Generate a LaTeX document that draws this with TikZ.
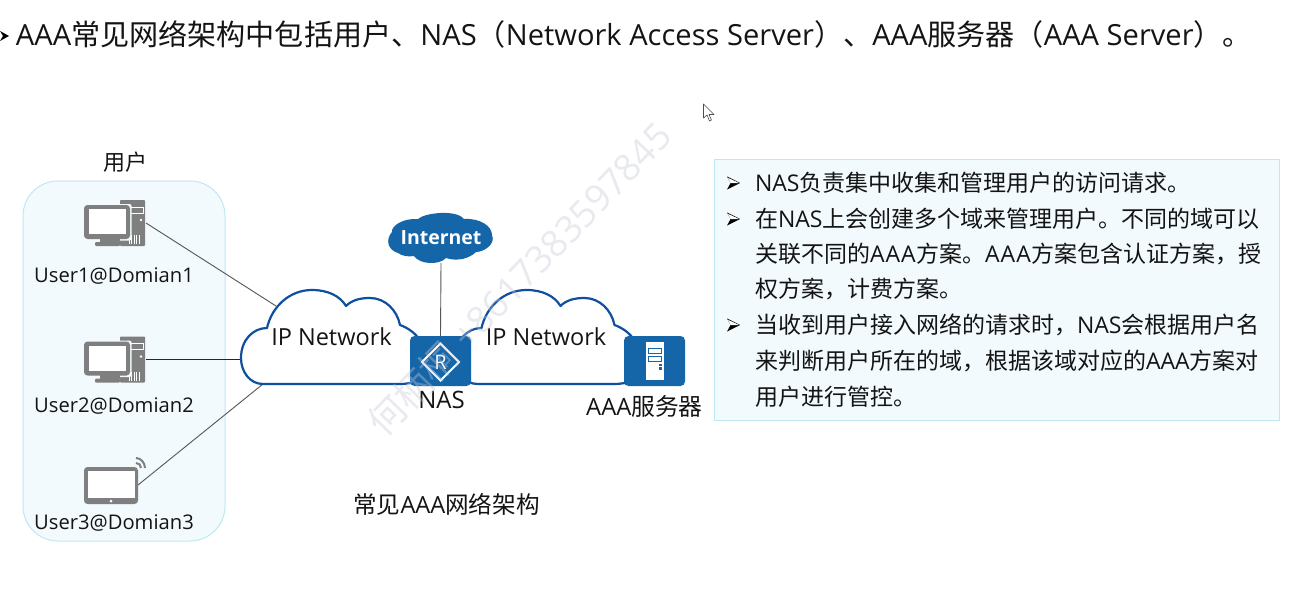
\documentclass[tikz,border=0pt]{standalone}
\usepackage{fontspec}
\setmainfont{Open Sans}
\newfontfamily\cjk{Noto Sans CJK SC}
\newcommand\zh[1]{{\cjk #1}}
\newcommand\fs[1]{\fontsize{#1}{#1}\selectfont}
\newcommand\AAAw{A\kern1pt A\kern1pt A\kern0.5pt}
\definecolor{nblue}{HTML}{1565A9}
\definecolor{cloudline}{HTML}{0F4FA0}
\definecolor{paneledge}{HTML}{BFE8F5}
\definecolor{panelfill}{HTML}{F2FAFD}
\definecolor{icongray}{HTML}{7F7F7F}
\definecolor{linegray}{HTML}{555555}
\definecolor{wmgray}{HTML}{C4C9D6}
\tikzset{
  x=1pt,y=-1pt,
  txt/.style={anchor=base west,inner sep=0pt,outer sep=0pt,text=black!92},
  ctxt/.style={anchor=base,inner sep=0pt,outer sep=0pt,text=black!92},
  link/.style={draw=linegray,line width=0.9pt},
  frame/.style={draw=none,minimum width=#1,inner sep=0pt,outer sep=0pt},
  bluebox/.style={fill=nblue,rounded corners=4.5pt},
  ipcloud/.style={draw=cloudline,line width=2.2pt,fill=white,line join=round},
  wifi/.style={draw=icongray,line width=2pt}
}
\newcommand\PC[2]{%
 \begin{scope}[shift={(#1,#2)}]
  \fill[icongray,rounded corners=0.8pt] (36,0) rectangle (61,46);
  \draw[white,line width=0.7pt] (46,7) rectangle (59,13);
  \fill[white] (57,20) circle (1.3pt);
  \foreach \xx in {45,47.5,50,52.5,55} \draw[white,line width=0.7pt] (\xx,35)--(\xx,44);
  \fill[panelfill,rounded corners=2pt] (-1,4) rectangle (47.5,40.5);
  \fill[icongray,rounded corners=3.5pt] (0,5) rectangle (46,39);
  \fill[white] (4.5,9) rectangle (42,34);
  \fill[icongray] (16,38.5) rectangle (36,42.5);
  \fill[icongray,rounded corners=1pt] (11,42) rectangle (36,46);
 \end{scope}}
\newcommand\BUL[2]{%
 \begin{scope}[shift={(#1,#2)}]
  \fill[black] (0,-6.5) -- (13,0) -- (0,6.5) -- (3.6,0) -- cycle;
  \fill[white] (0.9,-5.2) -- (12,0) -- (3.6,0) -- cycle;
 \end{scope}}
\newcommand\CLOUD[1]{%
 \path[ipcloud,shift={(#1,0)}] (263,384)
   .. controls (250,384) and (241,372) .. (241,358)
   .. controls (241,340) and (253,328) .. (267,328)
   .. controls (272,306) and (290,290) .. (312,290)
   .. controls (328,290) and (340,296) .. (346,306)
   .. controls (352,300) and (360,298) .. (370,298)
   .. controls (385,298) and (397,310) .. (400,325)
   .. controls (408,328) and (414,332) .. (420,340)
   -- (420,380) .. controls (412,383) and (408,384) .. (398,384) -- cycle;}
\begin{document}
\begin{tikzpicture}
\useasboundingbox (0,0) rectangle (1293,591);
\fill[white] (0,0) rectangle (1293,591);
% title
\fill[black] (0,31) -- (9,36) -- (0,41) -- (3,36) -- cycle;
\node[txt] (title) at (16,46) {\fs{29.1}AAA\zh{常见网络架构中包括用户、}NAS\zh{（}Network Access Server\zh{）、}AAA\zh{服务器（}AAA Server\zh{）。}};
% cursor
\draw[fill=white,draw=black!70,line width=0.6pt,line join=round] (703.5,104) -- (703.5,118) -- (707,115) -- (709.5,121) -- (711.5,120) -- (709,114.5) -- (714,114.5) -- cycle;
% users group
\node[draw=paneledge,fill=panelfill,line width=1pt,rounded corners=35pt,minimum width=202pt,minimum height=360pt,inner sep=0pt,outer sep=0pt] (group) at (124,361) {};
\node[ctxt] (grouplabel) at (125,170) {\fs{22}\zh{用户}};
% device frames
\node[frame=62pt,minimum height=46pt] (pc1) at (115,223) {};
\node[frame=62pt,minimum height=46pt] (pc2) at (115,359.5) {};
\node[frame=54pt,minimum height=37pt] (tab) at (111,485) {};
\node[frame=104pt,minimum height=52pt] (inet) at (441,237) {};
\node[frame=61pt,minimum height=50pt] (nas) at (440.5,361) {};
\node[frame=61pt,minimum height=50pt] (srv) at (654.5,361) {};
\coordinate (a1) at (276,306);
\coordinate (a2) at (241,359.5);
\coordinate (a3) at (263,384);
% links
\draw[link] (pc1.east) -- (a1);
\draw[link,draw=black!85] (pc2.east) -- (a2);
\draw[link] (tab.east) -- (a3);
\draw[link] (inet.south) -- (nas.north);
% icons
\PC{84}{200}
\PC{84}{336.5}
\fill[icongray,rounded corners=3.5pt] (84,467) rectangle (138,504);
\fill[white] (88,470.5) rectangle (134.5,498);
\fill[white] (111,501) circle (1.5pt);
\draw[wifi] (136,463) .. controls (139,463) and (141,465) .. (141,468);
\draw[wifi] (136,458) .. controls (141,458) and (145,463) .. (145,468);
% clouds
\CLOUD{0}
\CLOUD{214.5}
\node[ctxt] (ipa) at (331.5,345) {\fs{23.5}IP Network};
\node[ctxt] (ipb) at (546,345) {\fs{23.5}IP Network};
% internet
\fill[nblue] (398,253)
  .. controls (388,250) and (385,240) .. (392,232)
  .. controls (391,226) and (403,218) .. (418,219)
  .. controls (424,213) and (456,209) .. (464,219)
  .. controls (480,218) and (492,226) .. (492,235)
  .. controls (496,244) and (484,252) .. (476,252)
  .. controls (470,258) and (458,262) .. (446,258)
  .. controls (440,265) and (420,265) .. (414,256)
  .. controls (408,257) and (402,256) .. (398,253) -- cycle;
\node[ctxt,text=white] (inetl) at (441,244.5) {\fs{19.5}\bfseries Internet};
% NAS
\fill[bluebox] (nas.north west) rectangle (nas.south east);
\draw[white,line width=2.1pt,line join=miter] (440.5,343.5) -- (459,362) -- (440.5,380.5) -- (422,362) -- cycle;
\node[anchor=center,text=white,inner sep=0pt] (rlabel) at (440.5,362) {\fs{20}R};
\node[ctxt] (naslabel) at (441.5,408) {\fs{24}NAS};
% server
\fill[bluebox] (srv.north west) rectangle (srv.south east);
\fill[white] (646,342) rectangle (664,380);
\draw[nblue,line width=1pt] (648.5,348.5) rectangle (661.5,353);
\draw[nblue,line width=1pt] (648.5,356.5) rectangle (661.5,361);
\fill[nblue] (658.5,363.5) rectangle (661.5,366);
\fill[nblue] (658.5,367) rectangle (661.5,369.5);
\node[ctxt] (srvl) at (644.5,415) {\fs{23.8}AAA\zh{服务器}};
% user labels
\node[ctxt] (u1) at (114,282) {\fs{20.2}User1@Domian1};
\node[ctxt] (u2) at (114,412) {\fs{20.2}User2@Domian2};
\node[ctxt] (u3) at (114,529) {\fs{20.2}User3@Domian3};
% caption
\node[ctxt] (cap) at (446.5,513) {\fs{23.6}\zh{常见}AAA\zh{网络架构}};
% panel
\node[draw=paneledge,fill=panelfill,line width=1pt,minimum width=565pt,minimum height=260pt,inner sep=0pt,outer sep=0pt] (panel) at (996.5,290) {};
\BUL{727}{183}
\BUL{727}{219}
\BUL{727}{325}
\node[txt] (l1) at (755,191) {\fs{23}NAS\zh{负责集中收集和管理用户的访问请求。}};
\node[txt] (l2) at (755,227) {\fs{23}\zh{在}NAS\zh{上会创建多个域来管理用户。不同的域可以}};
\node[txt] (l3) at (755,262) {\fs{23}\zh{关联不同的}\AAAw\zh{方案。}\AAAw\zh{方案包含认证方案，授}};
\node[txt] (l4) at (755,297) {\fs{23}\zh{权方案，计费方案。}};
\node[txt] (l5) at (755,333) {\fs{23}\zh{当收到用户接入网络的请求时，}NAS\zh{会根据用户名}};
\node[txt] (l6) at (755,369) {\fs{23}\zh{来判断用户所在的域，根据该域对应的}AAA\zh{方案对}};
\node[txt] (l7) at (755,405) {\fs{23}\zh{用户进行管控。}};
% watermark
\node[anchor=center,rotate=46,text=wmgray,opacity=0.38,inner sep=0pt] (wm) at (519,279) {\fs{37}\zh{何柄桐} +8617383597845};
\end{tikzpicture}
\end{document}
